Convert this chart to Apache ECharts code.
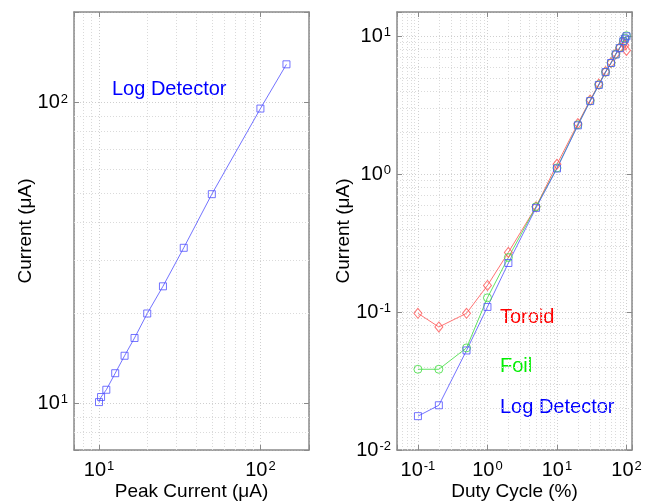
<!DOCTYPE html>
<html><head><meta charset="utf-8">
<script src="https://cdn.jsdelivr.net/npm/echarts@6/dist/echarts.min.js"></script>
<style>html,body{margin:0;padding:0;background:#fff}#c{width:649px;height:501px}</style>
</head><body><div id="c"></div>
<script>
// Left panel: Log detector vs peak current
const peakCurrent = [10, 10.3, 11.1, 12.6, 14.4, 16.6, 19.9, 24.9, 33.5, 50, 100, 145];
const logDetLeft  = [10.1, 10.5, 11.1, 12.6, 14.4, 16.5, 19.9, 24.5, 32.9, 49.6, 95.5, 134];
// Right panel: current vs duty cycle
const dutyCycle = [0.1, 0.2, 0.5, 1, 2, 5, 10, 20, 30, 40, 50, 60, 70, 80, 90, 95, 100];
const logDetRight = [0.0176, 0.0211, 0.0527, 0.109, 0.227, 0.57, 1.10, 2.26, 3.39, 4.44, 5.5, 6.4, 7.38, 8.2, 9.2, 9.6, 10.0];
const foil        = [0.0385, 0.0385, 0.055, 0.127, 0.249, 0.58, 1.11, 2.28, 3.4, 4.45, 5.5, 6.4, 7.4, 8.25, 9.25, 9.7, 10.1];
const toroid      = [0.098, 0.078, 0.098, 0.156, 0.271, 0.58, 1.18, 2.33, 3.45, 4.5, 5.55, 6.45, 7.45, 8.3, 9.0, 8.6, 7.9];
// Axis ranges
const leftRange = [7, 200];
const rightXRange = [0.05, 120];
const rightYRange = [0.01, 15];

const FONT = 'Liberation Sans, Arial, sans-serif';
const BLUE = 'rgba(80,80,255,0.8)', RED = 'rgba(255,80,80,0.8)', GREEN = 'rgba(60,220,60,0.8)';

function minors(lo, hi) {
  const out = [];
  for (let e = Math.floor(Math.log10(lo)); e <= Math.ceil(Math.log10(hi)); e++) {
    for (let m = 2; m <= 9; m++) {
      const v = m * Math.pow(10, e);
      if (v > lo * 1.0001 && v < hi * 0.9999) out.push(+v.toPrecision(3));
    }
  }
  return out;
}
function pow10Label(v) {
  const e = Math.round(Math.log10(v));
  if (Math.abs(Math.log10(v) - e) > 1e-6) return '';
  return '{b|10}{s|' + e + '}';
}
const rich = {
  b: { fontSize: 20, lineHeight: 20, fontFamily: FONT, color: '#000', verticalAlign: 'bottom' },
  s: { fontSize: 13, lineHeight: 13, fontFamily: FONT, color: '#000', verticalAlign: 'top', padding: [0, 0, 10, 1] }
};

function mainAxis(pos, range, gridIndex, name, nameGap) {
  const isX = pos === 'bottom';
  return {
    type: 'log', logBase: 10, gridIndex, position: pos, min: range[0], max: range[1],
    name, nameLocation: 'middle', nameGap, nameMoveOverlap: false,
    nameTextStyle: { fontSize: 19, fontFamily: FONT, color: '#000' },
    axisLine: { show: true, lineStyle: { color: '#8a8a8a', width: 1.5 } },
    axisTick: { show: true, inside: true, length: 5, lineStyle: { color: '#8a8a8a' } },
    axisLabel: { show: true, showMinLabel: true, showMaxLabel: true, margin: isX ? 10 : 6,
      formatter: pow10Label, rich },
    splitLine: { show: true, lineStyle: { color: '#cfcfcf', type: [1, 2], width: 1 } }
  };
}
function sideAxis(pos, range, gridIndex) {
  return {
    type: 'log', logBase: 10, gridIndex, position: pos, min: range[0], max: range[1],
    axisLine: { show: true, onZero: false, lineStyle: { color: '#8a8a8a', width: 1.5 } },
    axisTick: { show: true, inside: true, length: 5, lineStyle: { color: '#8a8a8a' } },
    axisLabel: { show: false }, splitLine: { show: false }
  };
}
function gridLines(xIdx, yIdx, xr, yr) {
  const style = { color: '#dadada', type: [1, 2], width: 1 };
  const data = minors(xr[0], xr[1]).map(v => ({ xAxis: v })).concat(minors(yr[0], yr[1]).map(v => ({ yAxis: v })));
  return { type: 'line', xAxisIndex: xIdx, yAxisIndex: yIdx, data: [], silent: true, z: 1,
    markLine: { silent: true, symbol: 'none', label: { show: false }, lineStyle: style, animation: false, data } };
}
function line(name, xs, ys, color, symbol, xIdx, yIdx) {
  const size = symbol === 'diamond' ? [8, 10] : (symbol === 'circle' ? 8 : 7);
  return { name, type: 'line', xAxisIndex: xIdx, yAxisIndex: yIdx,
    data: xs.map((x, i) => [x, ys[i]]), symbol, symbolSize: size, showSymbol: true,
    lineStyle: { color, width: 1 }, itemStyle: { color: 'rgba(0,0,0,0)', borderColor: color, borderWidth: 1 },
    z: 5, animation: false };
}

const chart = echarts.init(document.getElementById('c'), null, { renderer: 'canvas' });
chart.setOption({
  animation: false,
  textStyle: { fontFamily: FONT },
  grid: [
    { left: 74, top: 12, width: 235, height: 438, outerBoundsMode: 'none', containLabel: false },
    { left: 397, top: 12, width: 235, height: 438, outerBoundsMode: 'none', containLabel: false }
  ],
  xAxis: [
    mainAxis('bottom', leftRange, 0, 'Peak Current (\u03bcA)', 32),
    sideAxis('top', leftRange, 0),
    mainAxis('bottom', rightXRange, 1, 'Duty Cycle (%)', 32),
    sideAxis('top', rightXRange, 1)
  ],
  yAxis: [
    mainAxis('left', leftRange, 0, 'Current (\u03bcA)', 39),
    sideAxis('right', leftRange, 0),
    mainAxis('left', rightYRange, 1, 'Current (\u03bcA)', 44),
    sideAxis('right', rightYRange, 1)
  ],
  graphic: [
    { type: 'text', left: 112, top: 79, style: { text: 'Log Detector', fill: '#0000ff', font: '20px ' + FONT } },
    { type: 'text', left: 500, top: 307, style: { text: 'Toroid', fill: '#ff0000', font: '20px ' + FONT } },
    { type: 'text', left: 500, top: 356, style: { text: 'Foil', fill: '#00ee00', font: '20px ' + FONT } },
    { type: 'text', left: 500, top: 397, style: { text: 'Log Detector', fill: '#0000ff', font: '20px ' + FONT } }
  ],
  series: [
    gridLines(0, 0, leftRange, leftRange),
    gridLines(2, 2, rightXRange, rightYRange),
    line('Log Detector', peakCurrent, logDetLeft, BLUE, 'rect', 0, 0),
    line('Toroid', dutyCycle, toroid, RED, 'diamond', 2, 2),
    line('Foil', dutyCycle, foil, GREEN, 'circle', 2, 2),
    line('Log Detector', dutyCycle, logDetRight, BLUE, 'rect', 2, 2)
  ]
});
</script></body></html>
